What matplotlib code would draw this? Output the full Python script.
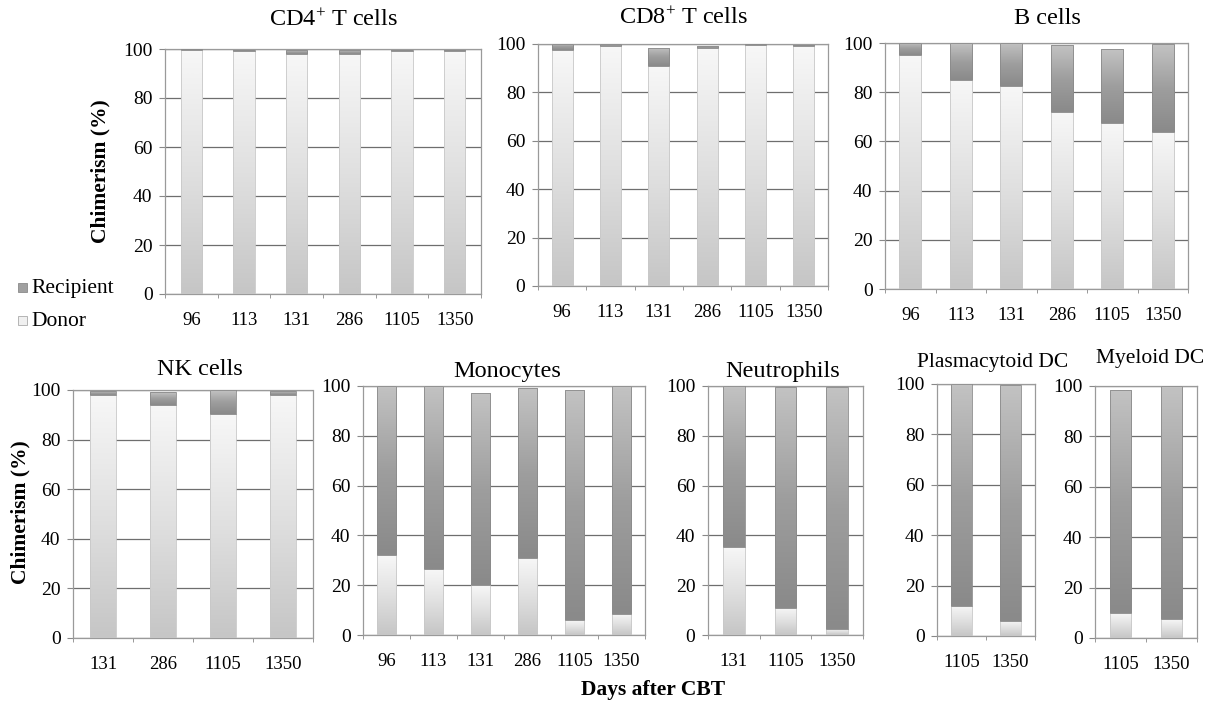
import matplotlib
matplotlib.use("Agg")
import matplotlib.pyplot as plt
from matplotlib.colors import LinearSegmentedColormap
from matplotlib.patches import Rectangle
import numpy as np

plt.rcParams['font.family'] = ['Liberation Serif', 'DejaVu Serif']
plt.rcParams['mathtext.fontset'] = 'custom'
plt.rcParams['mathtext.rm'] = 'Liberation Serif'
plt.rcParams['mathtext.default'] = 'regular'

# ---- data ----
days6 = ["96", "113", "131", "286", "1105", "1350"]
days_nk = ["131", "286", "1105", "1350"]
days_neu = ["131", "1105", "1350"]
days_dc = ["1105", "1350"]

cd4_donor = [99.5, 99.0, 98.0, 98.0, 99.0, 99.0]
cd4_recip = [0.5, 0.5, 1.5, 1.5, 0.5, 0.5]
cd8_donor = [97.5, 99.3, 91.0, 98.5, 99.5, 99.0]
cd8_recip = [2.5, 0.5, 7.5, 0.8, 0.5, 0.7]
b_donor = [95.0, 85.0, 82.5, 72.0, 67.5, 64.0]
b_recip = [5.0, 15.0, 17.5, 27.0, 30.0, 35.5]
nk_donor = [98.0, 94.0, 90.5, 98.0]
nk_recip = [1.5, 5.0, 9.5, 1.5]
mono_donor = [32.0, 26.5, 20.0, 31.0, 6.0, 8.5]
mono_recip = [68.0, 73.5, 77.0, 68.0, 92.5, 91.5]
neu_donor = [35.5, 11.0, 2.5]
neu_recip = [64.5, 88.5, 97.0]
pdc_donor = [12.0, 6.0]
pdc_recip = [88.0, 93.5]
mdc_donor = [10.0, 7.5]
mdc_recip = [88.5, 92.5]

W, H = 1216, 704
fig = plt.figure(figsize=(W / 100, H / 100), dpi=100)

DONOR = '#e0e0e0'
RECIP = '#a0a0a0'
EDGE_D = '#c8c8c8'
EDGE_R = '#8a8a8a'
cmap_d = LinearSegmentedColormap.from_list('d', ['#c6c6c6', '#e0e0e0', '#f7f7f7'])
cmap_r = LinearSegmentedColormap.from_list('r', ['#8a8a8a', '#9e9e9e', '#c2c2c2'])
grad = np.linspace(0, 1, 64).reshape(-1, 1)


def add_px(left, top, right, bottom):
    return fig.add_axes([left / W, 1 - bottom / H, (right - left) / W, (bottom - top) / H])


def shade(ax, bars, cmap):
    for p in bars.patches:
        x0, y0 = p.get_x(), p.get_y()
        w, h = p.get_width(), p.get_height()
        if h <= 0:
            continue
        im = ax.imshow(grad, extent=(x0, x0 + w, y0, y0 + h), origin='lower', cmap=cmap,
                       aspect='auto', zorder=3, interpolation='bilinear', vmin=0, vmax=1)
        im.set_clip_path(p)
        p.set_facecolor('none')
        p.set_zorder(4)


def panel(box, cats, donor, recip, title, title_xy, title_size=17.5, width=0.42, xlab_pad=13):
    ax = add_px(*box)
    x = np.arange(len(cats))
    bd = ax.bar(x, donor, width=width, color=DONOR, edgecolor=EDGE_D, linewidth=0.6, zorder=3)
    br = ax.bar(x, recip, width=width, bottom=donor, color=RECIP, edgecolor=EDGE_R, linewidth=0.6, zorder=3)
    shade(ax, bd, cmap_d)
    shade(ax, br, cmap_r)
    ax.set_xlim(-0.5, len(cats) - 0.5)
    ax.set_ylim(0, 100)
    ax.set_yticks([0, 20, 40, 60, 80, 100])
    ax.set_xticks(x)
    ax.set_xticklabels(cats)
    ax.set_xticks(np.arange(len(cats) + 1) - 0.5, minor=True)
    ax.tick_params(axis='x', which='major', length=0, pad=xlab_pad, labelsize=13.5)
    ax.tick_params(axis='x', which='minor', length=3, color='#888888')
    ax.tick_params(axis='y', length=4, pad=5, labelsize=14, color='#888888')
    ax.yaxis.grid(True, color='#6e6e6e', linewidth=0.9, zorder=0)
    ax.set_axisbelow(True)
    for s in ax.spines.values():
        s.set_color('#9a9a9a')
        s.set_linewidth(0.9)
        s.set_linestyle((0, (2, 1)))
    fig.text(title_xy[0] / W, 1 - title_xy[1] / H, title, ha='center', va='center', fontsize=title_size)
    return ax


# top row
panel((165, 49, 481, 294), days6, cd4_donor, cd4_recip, "CD4$^{+}$ T cells", (333, 20), width=0.4)
panel((538, 44, 828, 286), days6, cd8_donor, cd8_recip, "CD8$^{+}$ T cells", (683, 18), width=0.44)
panel((885, 43, 1188, 289), days6, b_donor, b_recip, "B cells", (1047, 18), width=0.44)

# bottom row
panel((73, 390, 313, 638), days_nk, nk_donor, nk_recip, "NK cells", (200, 370), width=0.42)
panel((363, 386, 645, 635), days6, mono_donor, mono_recip, "Monocytes", (507, 372), width=0.42)
panel((708, 386, 863, 635), days_neu, neu_donor, neu_recip, "Neutrophils", (783, 372), width=0.42)
panel((937, 384, 1035, 636), days_dc, pdc_donor, pdc_recip, "Plasmacytoid DC", (993, 362), title_size=15.5, width=0.42)
panel((1095, 386, 1197, 638), days_dc, mdc_donor, mdc_recip, "Myeloid DC", (1150, 358), title_size=15.5, width=0.42)

# axis labels
fig.text(100 / W, 1 - 171 / H, "Chimerism (%)", rotation=90, ha='center', va='center',
         fontsize=15.5, fontweight='bold')
fig.text(20 / W, 1 - 512 / H, "Chimerism (%)", rotation=90, ha='center', va='center',
         fontsize=15.5, fontweight='bold')
fig.text(653 / W, 1 - 690 / H, "Days after CBT", ha='center', va='center',
         fontsize=15.5, fontweight='bold')

# legend
for (yy, col, ec, lab) in [(288, RECIP, EDGE_R, "Recipient"), (321, '#f0f0f0', '#aaaaaa', "Donor")]:
    fig.patches.append(Rectangle((18 / W, 1 - (yy + 4) / H), 9 / W, 9 / H, transform=fig.transFigure,
                                 facecolor=col, edgecolor=ec, linewidth=0.6))
    fig.text(31 / W, 1 - yy / H, lab, ha='left', va='center', fontsize=15.5)

fig.savefig("out.png", dpi=100)
